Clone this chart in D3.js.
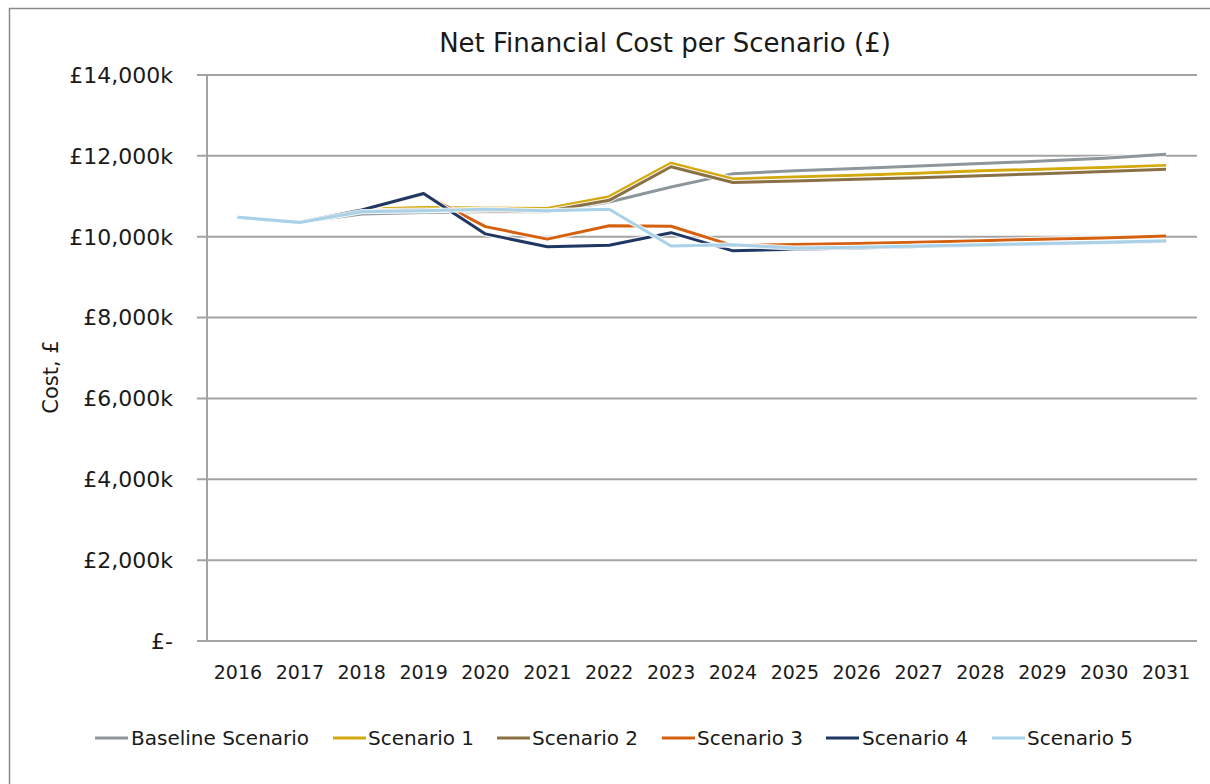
<!DOCTYPE html>
<html>
<head>
<meta charset="utf-8">
<script src="https://cdn.jsdelivr.net/npm/d3@7/dist/d3.min.js"></script>
<style>
  html, body { margin: 0; padding: 0; background: #fff; }
  svg { display: block; font-family: "DejaVu Sans", Verdana, sans-serif; }
</style>
</head>
<body>
<svg id="chart" width="1210" height="784"></svg>
<script>
// ---- Data (values in £ thousands) ----
const years = ["2016","2017","2018","2019","2020","2021","2022","2023","2024","2025","2026","2027","2028","2029","2030","2031"];
const seriesNames = ["Baseline Scenario","Scenario 1","Scenario 2","Scenario 3","Scenario 4","Scenario 5"];
const baseline  = [10480,10360,10560,10600,10620,10610,10860,11230,11560,11630,11690,11750,11810,11870,11940,12040];
const scenario1 = [10480,10360,10680,10720,10710,10700,10990,11820,11430,11480,11520,11570,11630,11670,11710,11760];
const scenario2 = [10480,10360,10640,10660,10640,10630,10900,11730,11340,11380,11420,11460,11510,11560,11610,11670];
const scenario3 = [10480,10360,10660,11050,10250,9940,10270,10260,9780,9810,9830,9860,9900,9940,9970,10020];
const scenario4 = [10480,10360,10660,11070,10070,9750,9790,10100,9650,9690,9720,9760,9790,9820,9850,9890];
const scenario5 = [10480,10350,10620,10640,10680,10640,10680,9770,9800,9720,9740,9770,9800,9830,9860,9900];
const yTicks = [0,2000,4000,6000,8000,10000,12000,14000];
const colors = ["#8d979b","#d4a90e","#8a7045","#d5600f","#1f3763","#a9d2e8"];

const allSeries = [baseline, scenario1, scenario2, scenario3, scenario4, scenario5];

(function () {
const svg = d3.select("#chart");

// chart border (left/top visible)
svg.append("path")
  .attr("d", "M9.5,790 L9.5,8.5 L1220,8.5")
  .attr("fill", "none").attr("stroke", "#8a8a8a").attr("stroke-width", 1.5);

const pL = 207, pR = 1197, pT = 75, pB = 641;

const x = d3.scaleBand().domain(years).range([pL, pR]).padding(0);
const y = d3.scaleLinear().domain([0, 14000]).range([pB, pT]);
const cx = d => x(d) + x.bandwidth() / 2;

// Title
svg.append("text")
  .attr("x", 665).attr("y", 52)
  .attr("text-anchor", "middle")
  .attr("font-size", 26).attr("fill", "#1a1a1a")
  .text("Net Financial Cost per Scenario (£)");

// Gridlines
svg.append("g").selectAll("line").data(yTicks).join("line")
  .attr("x1", pL - 10).attr("x2", pR)
  .attr("y1", d => y(d)).attr("y2", d => y(d))
  .attr("stroke", "#a3a3a3").attr("stroke-width", 2);

// Y axis line
svg.append("line")
  .attr("x1", pL).attr("x2", pL)
  .attr("y1", pT).attr("y2", pB)
  .attr("stroke", "#a3a3a3").attr("stroke-width", 2);

// Y tick labels
const fmt = d3.format(",");
svg.append("g").selectAll("text").data(yTicks).join("text")
  .attr("x", 173).attr("y", d => y(d))
  .attr("dy", "0.36em")
  .attr("text-anchor", "end")
  .attr("font-size", 22).attr("fill", "#1a1a1a")
  .text(d => d === 0 ? "£-" : "£" + fmt(d) + "k");

// X tick labels
svg.append("g").selectAll("text").data(years).join("text")
  .attr("x", d => cx(d)).attr("y", 679)
  .attr("text-anchor", "middle")
  .attr("font-size", 19).attr("fill", "#1a1a1a")
  .text(d => d);

// Y axis title
svg.append("text")
  .attr("transform", "translate(58,377) rotate(-90)")
  .attr("text-anchor", "middle")
  .attr("font-size", 21).attr("fill", "#1a1a1a")
  .text("Cost, £");

// Lines
const line = d3.line().x((d, i) => cx(years[i])).y(d => y(d));
const lg = svg.append("g");
allSeries.forEach((s, i) => {
  lg.append("path").datum(s).attr("d", line)
    .attr("fill", "none").attr("stroke", "#fff").attr("stroke-width", 5.2)
    .attr("stroke-linejoin", "round").attr("stroke-opacity", 0.85);
  lg.append("path").datum(s).attr("d", line)
    .attr("fill", "none").attr("stroke", colors[i]).attr("stroke-width", 3)
    .attr("stroke-linejoin", "round");
});

// Legend
const legendItems = [
  {m: 95, t: 131}, {m: 333, t: 368}, {m: 497, t: 532},
  {m: 662, t: 697}, {m: 826, t: 862}, {m: 992, t: 1027}
];
const leg = svg.append("g");
seriesNames.forEach((name, i) => {
  const it = legendItems[i];
  leg.append("line")
    .attr("x1", it.m).attr("x2", it.m + 33)
    .attr("y1", 738).attr("y2", 738)
    .attr("stroke", colors[i]).attr("stroke-width", 3);
  leg.append("text")
    .attr("x", it.t).attr("y", 738).attr("dy", "0.36em")
    .attr("font-size", 20).attr("fill", "#1a1a1a")
    .text(name);
});
})();
</script>
</body>
</html>
